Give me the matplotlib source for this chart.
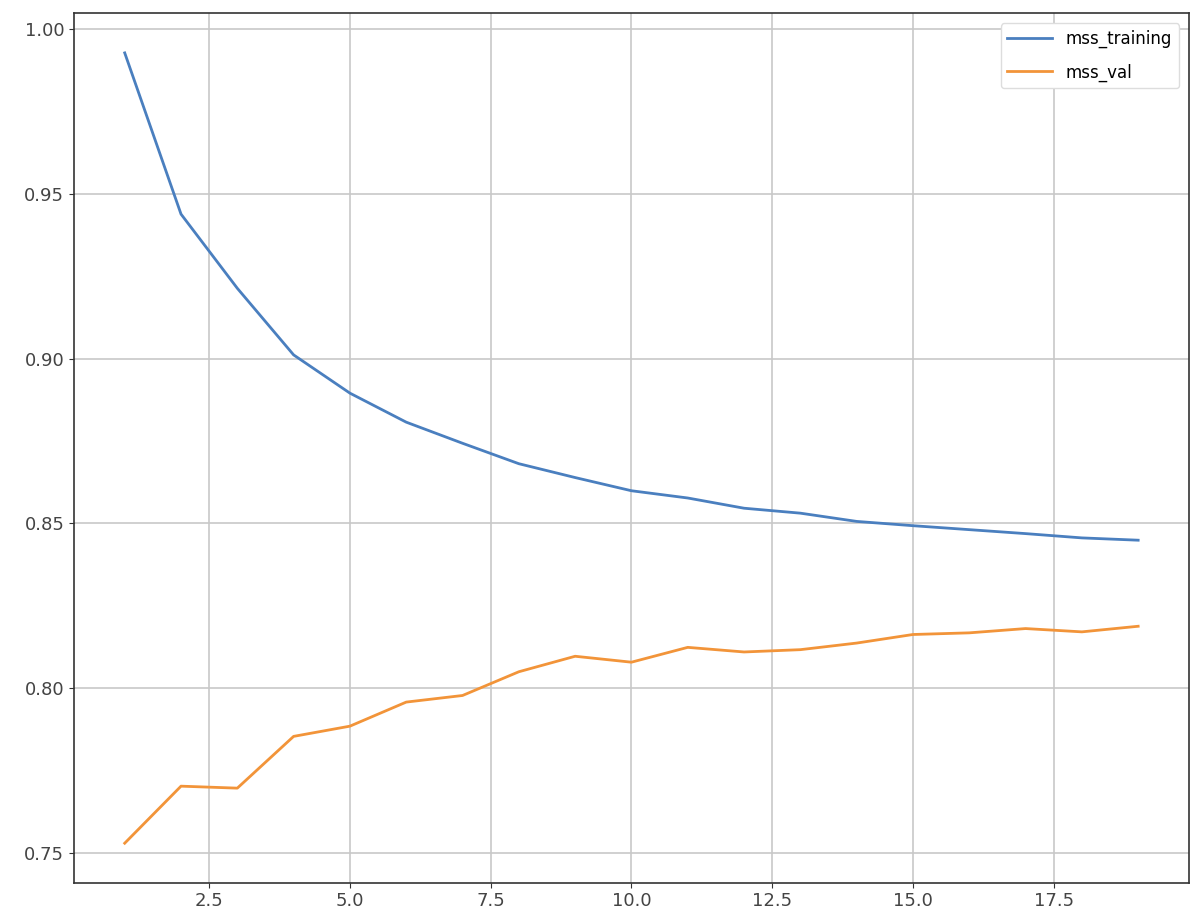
import matplotlib.pyplot as plt

# data
epochs = list(range(1, 20))
mss_training = [0.9927, 0.9438, 0.9213, 0.9011, 0.8895, 0.8807, 0.8743, 0.8681,
                0.8639, 0.8599, 0.8577, 0.8546, 0.8531, 0.8506, 0.8493, 0.8481,
                0.8469, 0.8456, 0.8449]
mss_val = [0.7530, 0.7703, 0.7697, 0.7854, 0.7885, 0.7958, 0.7978, 0.8050,
           0.8097, 0.8079, 0.8124, 0.8110, 0.8117, 0.8137, 0.8163, 0.8168,
           0.8181, 0.8171, 0.8188]

plt.rcParams['font.family'] = ['DejaVu Sans']
plt.rcParams['font.size'] = 12

fig = plt.figure(figsize=(12, 9.22), dpi=100)
ax = fig.add_axes([0.0617, 0.0426, 0.929, 0.9429])

ax.plot(epochs, mss_training, label="mss_training", color="#4a7fbf", linewidth=2)
ax.plot(epochs, mss_val, label="mss_val", color="#f29439", linewidth=2)

ax.grid(True, color="#c8c8c8", linewidth=1.2)
ax.set_axisbelow(True)
for s in ax.spines.values():
    s.set_color("#333333")
    s.set_linewidth(1.2)
ax.tick_params(colors="#333333", labelcolor="#444444", labelsize=13)
ax.set_yticks([0.75, 0.80, 0.85, 0.90, 0.95, 1.00])
ax.legend(loc="upper right", fontsize=12, framealpha=1, edgecolor="#dddddd",
          labelspacing=0.9, handlelength=2.7, borderaxespad=0.6)

plt.savefig("out.png", dpi=100)
